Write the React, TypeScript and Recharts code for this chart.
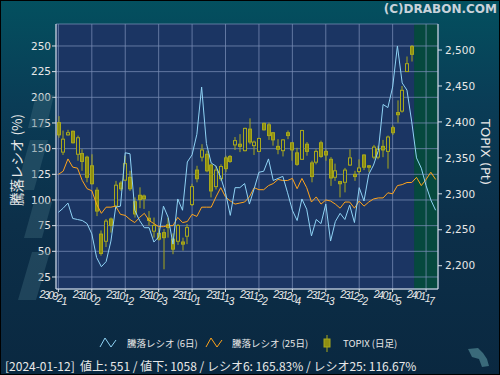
import React from 'react';
import {
  ComposedChart,
  Bar,
  Line,
  XAxis,
  YAxis,
  CartesianGrid,
  ReferenceArea,
} from 'recharts';

// trading days shown on the chart
const dates = [
  '230921', '230922', '230925', '230926', '230927', '230928', '230929',
  '231002', '231003', '231004', '231005', '231006', '231010', '231011', '231012', '231013',
  '231016', '231017', '231018', '231019', '231020', '231023', '231024', '231025', '231026',
  '231027', '231030', '231031',
  '231101', '231102', '231106', '231107', '231108', '231109', '231110', '231113', '231114',
  '231115', '231116', '231117', '231120', '231121', '231122', '231124', '231127', '231128',
  '231129', '231130',
  '231201', '231204', '231205', '231206', '231207', '231208', '231211', '231212', '231213',
  '231214', '231215', '231218', '231219', '231220', '231221', '231222', '231225', '231226',
  '231227', '231228', '231229',
  '240104', '240105', '240109', '240110', '240111', '240112', '240115', '240116', '240117',
  '240118', '240119',
];

const tickDates = ['230921', '231002', '231012', '231023', '231101', '231113', '231122', '231204', '231213', '231222', '240105', '240117'];

// 騰落レシオ (6日)
const ratio6 = [
  88, 92, 97, 82, 81, 80, 77, 67, 44, 35, 40, 60, 93, 94, 146, 145, 90, 80, 73, 73,
  59, 64, 94, 83, 57, 101, 90, 137, 144, 164, 210, 155, 136, 133, 122, 107, 85, 112, 112, 116,
  96, 111, 127, 128, 140, 119, 121, 123, 107, 90, 80, 101, 91, 65, 81, 77, 96, 60, 79, 87,
  81, 95, 78, 112, 99, 125, 134, 148, 193, 190, 210, 250, 214, 207, 176, 141, 131, 114, 100, 90,
];

// 騰落レシオ (25日)
const ratio25 = [
  125, 128, 140, 132, 131, 119, 111, 109, 96, 87, 93, 93, 94, 86, 85, 81, 78, 83, 87, 80,
  77, 74, 74, 75, 75, 83, 78, 79, 86, 84, 93, 93, 93, 103, 112, 103, 99, 96, 97, 98,
  103, 112, 110, 110, 114, 116, 120, 119, 119, 121, 111, 121, 112, 98, 103, 96, 100, 99, 96, 92,
  98, 98, 92, 99, 94, 98, 101, 102, 102, 107, 106, 114, 115, 117, 117, 122, 114, 120, 127, 120,
];

// TOPIX daily candles (to 2024-01-12)
const topixOpen = [
  2399, 2358, 2382, 2387, 2355, 2356, 2351, 2339, 2305, 2244, 2234, 2265, 2283, 2315, 2319,
  2323, 2289, 2298, 2297, 2266, 2248, 2245, 2246, 2257, 2237, 2234, 2233, 2241, 2285, 2333,
  2351, 2355, 2340, 2310, 2321, 2350, 2352, 2368, 2369, 2360, 2390, 2367, 2359, 2398, 2396,
  2385, 2366, 2360, 2385, 2371, 2357, 2348, 2369, 2343, 2344, 2371, 2359, 2348, 2323, 2317,
  2316, 2340, 2327, 2331, 2354, 2339, 2351, 2351, 2366, 2359, 2392, 2413, 2415, 2470, 2505,
];
const topixHigh = [
  2408, 2388, 2389, 2388, 2381, 2362, 2353, 2355, 2309, 2249, 2265, 2267, 2318, 2318, 2353,
  2332, 2295, 2309, 2299, 2276, 2267, 2253, 2251, 2267, 2245, 2258, 2239, 2258, 2314, 2339,
  2369, 2360, 2342, 2339, 2341, 2353, 2354, 2379, 2383, 2392, 2405, 2374, 2378, 2399, 2399,
  2386, 2376, 2376, 2388, 2371, 2364, 2389, 2372, 2346, 2362, 2374, 2362, 2351, 2342, 2318,
  2336, 2362, 2332, 2348, 2355, 2340, 2368, 2367, 2375, 2381, 2395, 2430, 2450, 2491, 2507,
];
const topixLow = [
  2378, 2354, 2381, 2370, 2346, 2332, 2316, 2313, 2269, 2214, 2226, 2246, 2279, 2304, 2318,
  2304, 2267, 2280, 2279, 2256, 2239, 2235, 2195, 2239, 2216, 2229, 2221, 2230, 2283, 2316,
  2345, 2330, 2295, 2306, 2318, 2330, 2343, 2361, 2358, 2359, 2369, 2354, 2358, 2388, 2375,
  2367, 2355, 2352, 2376, 2346, 2339, 2347, 2353, 2316, 2341, 2350, 2346, 2311, 2318, 2295,
  2302, 2339, 2318, 2328, 2333, 2330, 2348, 2348, 2351, 2335, 2382, 2399, 2413, 2470, 2484,
];
const topixClose = [
  2382, 2376, 2385, 2371, 2378, 2345, 2323, 2314, 2276, 2217, 2262, 2256, 2312, 2307, 2342,
  2307, 2272, 2292, 2293, 2263, 2256, 2237, 2239, 2253, 2223, 2256, 2230, 2253, 2310, 2321,
  2361, 2332, 2304, 2333, 2338, 2335, 2345, 2374, 2366, 2391, 2372, 2372, 2377, 2389, 2381,
  2375, 2362, 2375, 2381, 2361, 2341, 2388, 2359, 2324, 2359, 2352, 2354, 2322, 2332, 2314,
  2333, 2350, 2324, 2336, 2337, 2337, 2365, 2362, 2361, 2379, 2385, 2410, 2444, 2481, 2494,
];

const leftTicks = [25, 50, 75, 100, 125, 150, 175, 200, 225, 250];
const rightTicks = [2200, 2250, 2300, 2350, 2400, 2450, 2500];

const data = dates.map((date, i) => ({
  date,
  r6: ratio6[i],
  r25: ratio25[i],
  open: topixOpen[i],
  high: topixHigh[i],
  low: topixLow[i],
  close: topixClose[i],
  range: topixHigh[i] != null ? [topixLow[i], topixHigh[i]] : null,
}));

const BLUE = '#8fd3f5';
const ORANGE = '#ffa41b';
const CANDLE = '#a8a81c';
const CANDLE_FILL = '#8e8e12';
const TEXT = '#e8e8e8';

const Candle = (props: any) => {
  const { x, y, width, height, payload } = props;
  if (!payload || payload.high == null || !isFinite(y) || !isFinite(height)) return null;
  const { open, close, high, low } = payload;
  const ppu = high - low > 0 ? height / (high - low) : 0;
  const cx = Math.round(x + width / 2);
  const top = y + (high - Math.max(open, close)) * ppu;
  const bot = y + (high - Math.min(open, close)) * ppu;
  const bearish = close < open;
  return (
    <g>
      <line x1={cx} x2={cx} y1={y} y2={y + height} stroke={CANDLE} strokeWidth={1} />
      <rect
        x={cx - 1.5}
        y={top}
        width={3}
        height={Math.max(bot - top, 1)}
        fill={bearish ? CANDLE_FILL : '#1b3563'}
        stroke={CANDLE}
        strokeWidth={1}
      />
    </g>
  );
};

// the date labels sag towards their last digits
const drops = [0, 0.6, 1.2, 1.8, 4, 6.5];

const DateTick = (props: any) => {
  const { x, y, payload } = props;
  const s = String(payload.value);
  return (
    <g>
      {s.split('').map((c, k) => (
        <text
          key={k}
          x={x - 19 + k * 4.4}
          y={y + 4 + drops[k]}
          fill={TEXT}
          fontSize={10.5}
          fontStyle="italic"
          fontFamily="Liberation Sans"
        >
          {c}
        </text>
      ))}
    </g>
  );
};

export default function App() {
  return (
    <div
      style={{
        position: 'fixed',
        left: 0,
        top: 0,
        width: 500,
        height: 375,
        overflow: 'hidden',
        background: 'linear-gradient(180deg, #03505f 0%, #0a3c56 28%, #0c2f49 60%, #0a2840 100%)',
      }}
    >
      <div style={{ position: 'absolute', left: 0, top: 0 }}>
        <ComposedChart width={500} height={375} data={data} margin={{ top: 24, right: 0, bottom: 0, left: 0 }}>
          <ReferenceArea yAxisId="left" y1={13.3} y2={271.4} fill="#1b3563" fillOpacity={1} stroke="none" zIndex={-300} />
          <ReferenceArea yAxisId="left" x1="240115" x2="240119" fill="#06493e" fillOpacity={1} stroke="none" zIndex={-250} />
          <CartesianGrid yAxisId="left" stroke="#7a8db5" strokeOpacity={0.75} fill="none" />
          <XAxis
            dataKey="date"
            type="category"
            ticks={tickDates}
            interval={0}
            height={86}
            tick={<DateTick />}
            tickSize={3}
            stroke="#d8e0e8"
          />
          <YAxis
            yAxisId="left"
            orientation="left"
            width={56}
            domain={[13.3, 271.4]}
            allowDataOverflow
            ticks={leftTicks}
            interval={0}
            tickSize={4}
            tickMargin={1}
            stroke="#d8e0e8"
            tick={{ fill: TEXT, fontSize: 10.5, fontFamily: 'DejaVu Sans' }}
          />
          <YAxis
            yAxisId="right"
            orientation="right"
            width={62}
            domain={[2167.6, 2536.2]}
            allowDataOverflow
            ticks={rightTicks}
            interval={0}
            tickSize={4}
            tickMargin={3}
            stroke="#d8e0e8"
            tickFormatter={(v) => Number(v).toLocaleString('en-US')}
            tick={{ fill: TEXT, fontSize: 10.5, fontFamily: 'DejaVu Sans' }}
          />
          <Bar yAxisId="right" dataKey="range" barSize={3} shape={<Candle />} isAnimationActive={false} />
          <Line yAxisId="left" type="linear" dataKey="r25" stroke={ORANGE} strokeWidth={1} dot={false} isAnimationActive={false} />
          <Line yAxisId="left" type="linear" dataKey="r6" stroke={BLUE} strokeWidth={1} dot={false} isAnimationActive={false} />
        </ComposedChart>
      </div>
      <svg width={500} height={375} style={{ position: 'absolute', left: 0, top: 0, pointerEvents: 'none' }}>
        {/* faint logo marks */}
        <g fill="#3e6a7c" opacity={0.4}>
          <polygon points="18,300 36,300 50,252 32,252" />
          <polygon points="24,238 42,238 52,202 34,202" />
          <polygon points="16,190 34,190 48,140 30,140" />
          <polygon points="28,128 46,128 54,95 36,95" />
        </g>
        <polygon points="468,349 478,348 483,353 487,359 489,366 482,367 479,359 472,357 470,353" fill="#3a6a7a" />
        <text x={497} y={13} textAnchor="end" fill="#c9d2da" fontSize={12} fontWeight="bold" fontFamily="DejaVu Sans">
          (C)DRABON.COM
        </text>
        <text
          transform="translate(15.5,160) rotate(-90)"
          textAnchor="middle"
          dominantBaseline="central"
          fill={TEXT}
          fontSize={13.5}
          fontFamily="Noto Sans CJK JP"
        >
          騰落レシオ (%)
        </text>
        <text
          transform="translate(485,152) rotate(90)"
          textAnchor="middle"
          dominantBaseline="central"
          fill={TEXT}
          fontSize={13}
          fontFamily="DejaVu Sans"
        >
          TOPIX (Pt)
        </text>
        {/* legend */}
        <polyline points="100,347 105,338 111,347 116,340" fill="none" stroke={BLUE} strokeWidth={1} />
        <text x={127} y={347} fill={TEXT} fontSize={9.5} fontFamily="Noto Sans CJK JP">騰落レシオ (6日)</text>
        <polyline points="206,347 211,338 217,347 222,340" fill="none" stroke={ORANGE} strokeWidth={1} />
        <text x={232} y={347} fill={TEXT} fontSize={9.5} fontFamily="Noto Sans CJK JP">騰落レシオ (25日)</text>
        <line x1={327} x2={327} y1={335} y2={352} stroke={CANDLE} />
        <rect x={324} y={339} width={6} height={8} fill={CANDLE_FILL} stroke={CANDLE} />
        <text x={343} y={347} fill={TEXT} fontSize={9.5} fontFamily="Noto Sans CJK JP">TOPIX (日足)</text>
        {/* status line */}
        <text x={5} y={371} fill={TEXT} fontSize={12} fontFamily="Noto Sans CJK JP" xmlSpace="preserve">
          [2024-01-12]  値上: 551 / 値下: 1058 / レシオ6: 165.83% / レシオ25: 116.67%
        </text>
        <rect x={0.5} y={0.5} width={499} height={374} fill="none" stroke="#000" />
      </svg>
    </div>
  );
}
